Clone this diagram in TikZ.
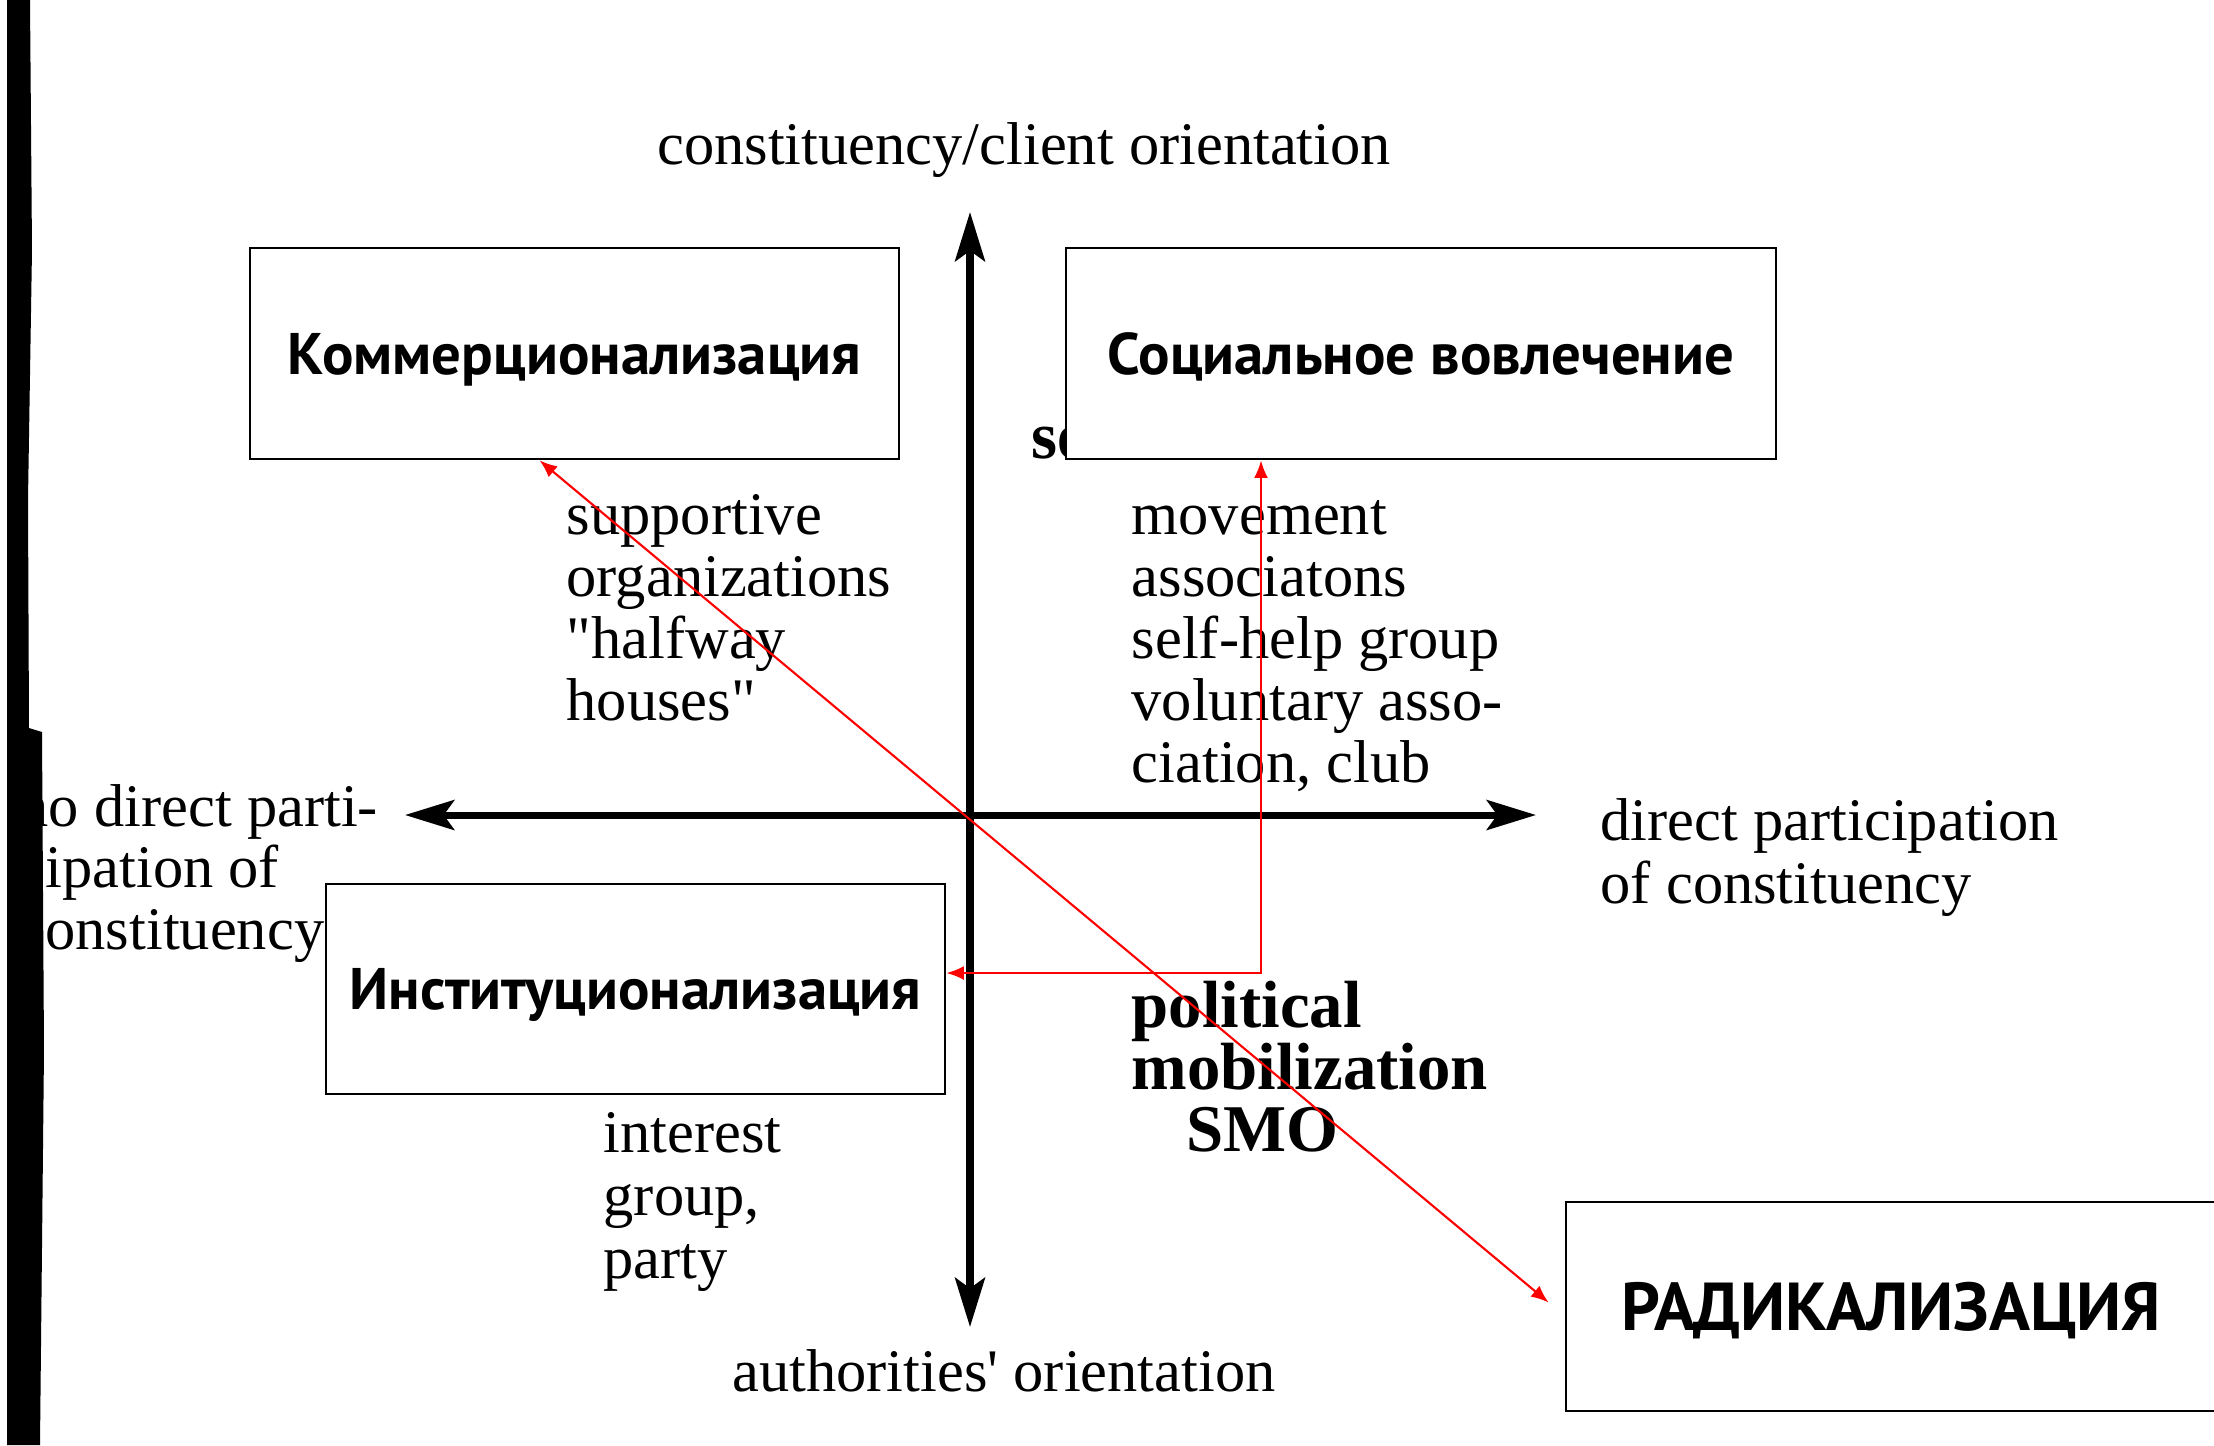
\documentclass[tikz,border=0pt]{standalone}
\usepackage{fontspec}
\setmainfont{Liberation Serif}[Ligatures=TeXOff]
\newfontfamily\boxfont{PT Sans}
\usetikzlibrary{arrows.meta,calc}
\begin{document}
\begin{tikzpicture}[x=1cm,y=1cm,
  lbl/.style={inner sep=0pt, anchor=base west, font=\fontsize{17.2}{20}\selectfont},
  clbl/.style={inner sep=0pt, anchor=base, font=\fontsize{17.2}{20}\selectfont},
  blbl/.style={inner sep=0pt, anchor=base west, font=\fontsize{19}{22}\selectfont\bfseries},
  catbox/.style={draw, fill=white, line width=0.8pt, inner sep=0pt, text depth=0pt, font=\boxfont\bfseries\fontsize{16.7}{19}\selectfont},
  axisline/.style={line width=2pt, {Stealth[length=14pt,width=8.5pt,inset=3pt]}-{Stealth[length=14pt,width=8.5pt,inset=3pt]}},
  redarr/.style={red, line width=0.6pt, {Latex[length=5pt,width=4pt]}-{Latex[length=5pt,width=4pt]}}
]
\useasboundingbox (0,0) rectangle (22.14,-14.45);
\fill[white] (0,0) rectangle (22.14,-14.45);

% axis labels
\node[clbl] (top) at (10.24,-1.64) {constituency/client orientation};
\node[clbl] (bot) at (10.04,-13.91) {authorities' orientation};
\node[lbl] (r1) at (16.00,-8.40) {direct participation};
\node[lbl] (r2) at (16.00,-9.03) {of constituency};
\node[lbl] (l1) at (0.18,-8.26) {no direct parti-};
\node[lbl] (l2) at (0.18,-8.87) {cipation of};
\node[lbl] (l3) at (0.18,-9.49) {constituency};

% quadrant texts
\node[lbl] (ul1) at (5.66,-5.34) {supportive};
\node[lbl] (ul2) at (5.66,-5.96) {organizations};
\node[lbl] (ul3) at (5.66,-6.58) {"halfway};
\node[lbl] (ul4) at (5.66,-7.20) {houses"};

\node[blbl] (urh) at (10.31,-4.58) {se};
\node[lbl] (ur1) at (11.31,-5.34) {movement};
\node[lbl] (ur2) at (11.31,-5.96) {associatons};
\node[lbl] (ur3) at (11.31,-6.58) {self-help group};
\node[lbl] (ur4) at (11.31,-7.20) {voluntary asso-};
\node[lbl] (ur5) at (11.31,-7.82) {ciation, club};

\node[lbl] (ll1) at (6.03,-11.52) {interest};
\node[lbl] (ll2) at (6.03,-12.15) {group,};
\node[lbl] (ll3) at (6.03,-12.78) {party};

\node[blbl] (lr1) at (11.31,-10.27) {political};
\node[blbl] (lr2) at (11.31,-10.89) {mobilization};
\node[blbl] (lr3) at (11.86,-11.51) {SMO};

% axes
\coordinate (L) at (4.05,-8.15);
\coordinate (R) at (15.36,-8.15);
\coordinate (T) at (9.70,-2.12);
\coordinate (B) at (9.70,-13.27);
\draw[axisline] (L) -- (R);
\draw[axisline] (T) -- (B);

% boxes
\node[catbox, minimum width=6.49cm, minimum height=2.11cm] (komm) at (5.745,-3.535) {Коммерционализация};
\node[catbox, minimum width=7.10cm, minimum height=2.11cm] (soc) at (14.21,-3.535) {Социальное вовлечение};
\node[catbox, minimum width=6.19cm, minimum height=2.10cm] (inst) at (6.355,-9.89) {Институционализация};
\node[catbox, minimum width=6.50cm, minimum height=2.09cm, font=\boxfont\bfseries\fontsize{19.3}{22}\selectfont] (rad) at (18.91,-13.065) {РАДИКАЛИЗАЦИЯ};

% red arrows
\draw[redarr] ($(komm.south west)+(2.91,0)$) -- ([shift={(-0.16,0.04)}]rad.west);
\coordinate (bend) at (12.61,-9.73);
\draw[redarr] (soc.south -| bend) -- (bend) -- (bend -| inst.east);

% scanned page edge
\fill[black] (0.07,0) -- (0.30,0) -- (0.32,-2.5) -- (0.28,-5.0) -- (0.29,-7.28) -- (0.42,-7.32) -- (0.44,-10.5) -- (0.40,-14.45) -- (0.07,-14.45) -- cycle;
\end{tikzpicture}
\end{document}
